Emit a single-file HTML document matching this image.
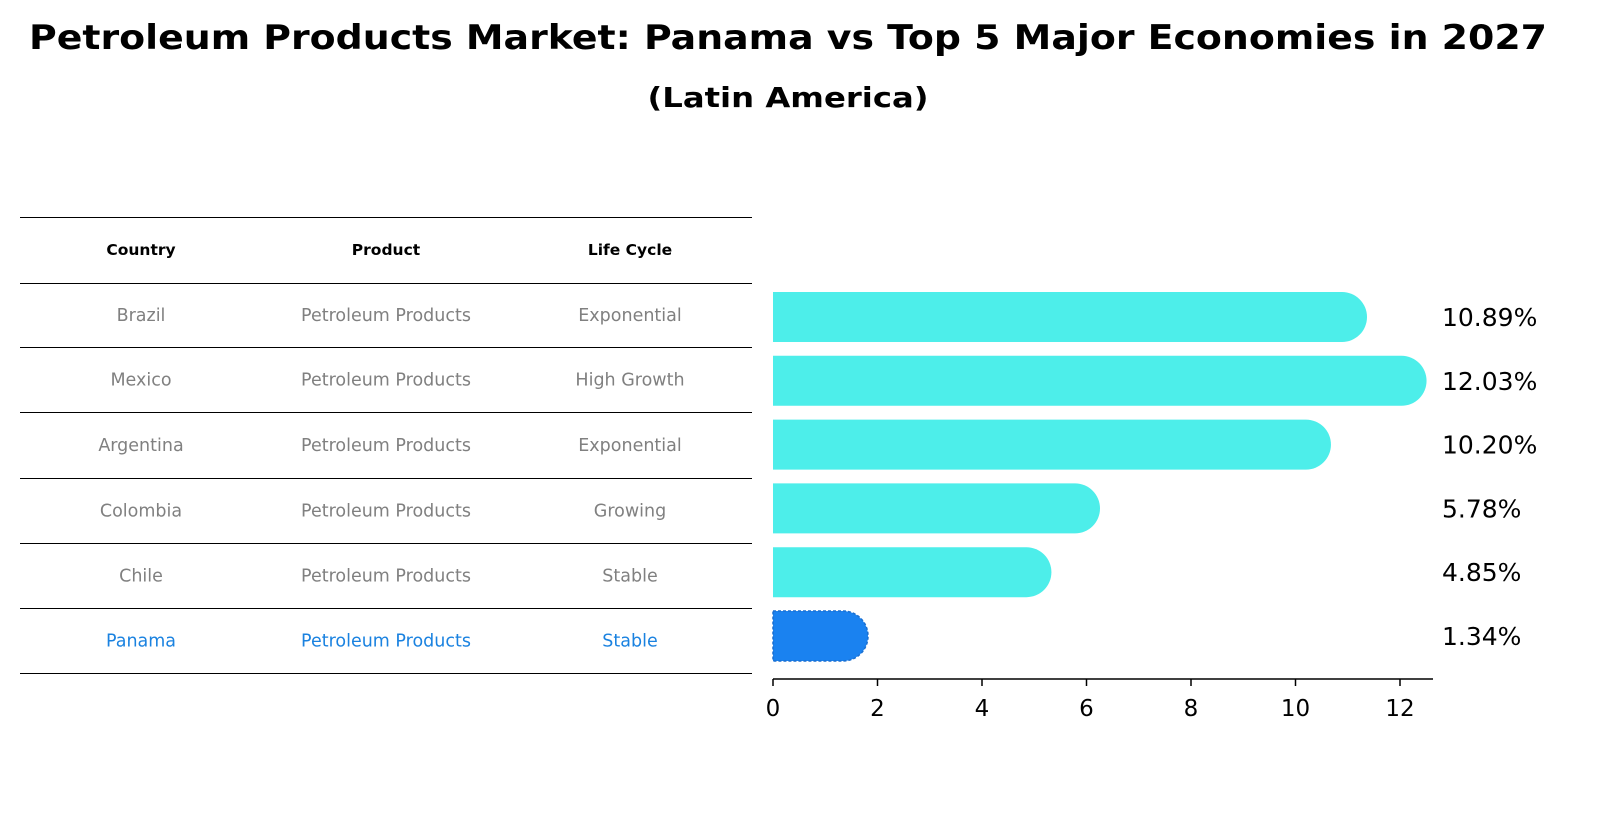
<!DOCTYPE html>
<html><head><meta charset="utf-8"><style>
body{margin:0;background:#fff;font-family:"DejaVu Sans","Liberation Sans",sans-serif}
svg{display:block}
</style></head><body>
<svg width="1607" height="823" font-family="'DejaVu Sans', 'Liberation Sans', sans-serif">
<text x="788" y="49" text-anchor="middle" font-size="34" font-weight="bold" textLength="1518" lengthAdjust="spacingAndGlyphs">Petroleum Products Market: Panama vs Top 5 Major Economies in 2027</text>
<text x="788" y="107" text-anchor="middle" font-size="28" font-weight="bold" textLength="281" lengthAdjust="spacingAndGlyphs">(Latin America)</text>
<g id="table"></g>
<g id="bars"></g>
</svg>
<script>
const countries=["Brazil","Mexico","Argentina","Colombia","Chile","Panama"];
const products=["Petroleum Products","Petroleum Products","Petroleum Products","Petroleum Products","Petroleum Products","Petroleum Products"];
const lifecycles=["Exponential","High Growth","Exponential","Growing","Stable","Stable"];
const values=[10.89,12.03,10.20,5.78,4.85,1.34];
const tickValues=[0,2,4,6,8,10,12];
const NS="http://www.w3.org/2000/svg";
function mk(tag,attrs,parent,txt){const e=document.createElementNS(NS,tag);for(const k in attrs)e.setAttribute(k,attrs[k]);if(txt!==undefined)e.textContent=txt;parent.appendChild(e);return e;}
const tbl=document.getElementById('table');
const lineYs=[217,283,347,412,478,543,608,673];
lineYs.forEach(y=>{const l=mk('line',{x1:20,x2:752,y1:y+0.5,y2:y+0.5,stroke:'#000','stroke-width':1},tbl);

});
const colX=[141,386,630];
["Country","Product","Life Cycle"].forEach((h,i)=>{const t=mk('text',{x:colX[i],y:255,'text-anchor':'middle','font-size':15.5,'font-weight':'bold'},tbl,h);

});
countries.forEach((c,r)=>{const y=(lineYs[r+1]+lineYs[r+2])/2+6;const col=c==="Panama"?"#1a82e0":"#808080";
[c,products[r],lifecycles[r]].forEach((v,i)=>{const t=mk('text',{x:colX[i],y:y,'text-anchor':'middle','font-size':17.5,fill:col},tbl,v);

});});
const g=document.getElementById('bars');
const x0=773,pxPer=(1400-773)/12;
const xs=v=>x0+v*pxPer;
const yc=i=>317+i*63.8;
const h=50,r=25;
values.forEach((v,i)=>{const xe=xs(v),yt=yc(i)-h/2;
const col=countries[i]==="Panama"?"#1a82f0":"#4deeea";
const p=mk('path',{d:`M${x0},${yt} H${xe} A${r},${r} 0 0 1 ${xe},${yt+h} H${x0} Z`,fill:col},g);
if(countries[i]==="Panama"){p.setAttribute('stroke','#1a6fd0');p.setAttribute('stroke-dasharray','3,2');p.setAttribute('stroke-width','1.5');}


const t=mk('text',{x:1442,y:yc(i)+9,'font-size':25},g,v.toFixed(2)+'%');

});
const ax=mk('line',{x1:x0,x2:1433,y1:679,y2:679,stroke:'#000','stroke-width':1.5},g);


tickValues.forEach(tv=>{const x=xs(tv);
const tk=mk('line',{x1:x,x2:x,y1:679,y2:686,stroke:'#000','stroke-width':1.5},g);


const t=mk('text',{x:x,y:716,'text-anchor':'middle','font-size':23},g,String(tv));

});
</script>
</body></html>
